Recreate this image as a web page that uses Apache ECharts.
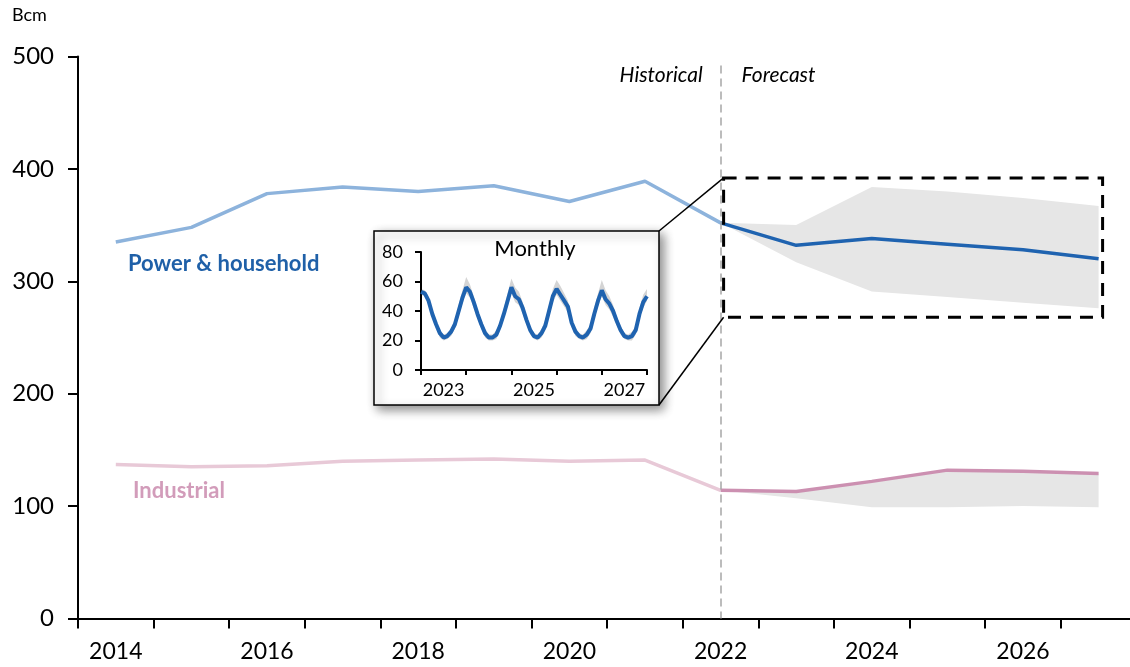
<!DOCTYPE html>
<html>
<head>
<meta charset="utf-8">
<script src="https://cdn.jsdelivr.net/npm/echarts@6/dist/echarts.min.js"></script>
<style>html,body{margin:0;padding:0;background:#fff;overflow:hidden}#c{width:1150px;height:667px}</style>
</head>
<body>
<div id="c"></div>
<script>
// ---- Data ----
const years = ['2014','2015','2016','2017','2018','2019','2020','2021','2022','2023','2024','2025','2026','2027'];
const lastHistIndex = 8; // 2022
const powerValues = [335, 348, 378, 384, 380, 385, 371, 389, 352, 332, 338, 333, 328, 320];
const powerBandLow  = [null, null, null, null, null, null, null, null, 352, 317, 291, 286, 281, 276];
const powerBandHigh = [null, null, null, null, null, null, null, null, 352, 350, 384, 380, 374, 367];
const industrialValues = [137, 135, 136, 140, 141, 142, 140, 141, 114, 113, 122, 132, 131, 129];
const industrialBandLow  = [null, null, null, null, null, null, null, null, 114, 107, 99, 99, 100, 99];
const industrialBandHigh = [null, null, null, null, null, null, null, null, 114, 113, 122, 132, 131, 129];
const yTicks = [0, 100, 200, 300, 400, 500];

const monthlyValues = [53,52,47,38,31,25,22,23,26,31,40,49,
  56,53,46,38,31,25,22,22,24,30,38,47,
  56,50,48,42,34,27,23,22,25,30,40,50,
  55,51,47,43,32,26,23,22,24,28,38,47,
  54,48,45,40,33,27,23,22,23,27,38,46,
  50];
const monthlyHigh = [55,54,50,41,34,27,24,25,28,34,44,54,
  63,58,50,41,34,28,24,24,27,33,42,52,
  62,56,53,46,37,30,25,24,28,34,44,55,
  61,57,52,47,35,29,25,24,27,31,42,52,
  61,54,50,44,36,30,25,24,26,30,42,51,
  55];
const monthlyLow = [51,50,44,35,28,22,20,21,23,28,36,45,
  52,49,42,35,28,22,20,20,21,27,35,43,
  52,46,44,38,31,24,21,20,22,27,36,46,
  51,47,43,39,29,23,21,20,21,25,35,43,
  50,44,41,36,30,24,21,20,20,24,35,42,
  47];
const monthlyYears = ['2023','2024','2025','2026','2027','2028'];
const monthLabels = monthlyValues.map((_, i) => monthlyYears[Math.floor(i / 12)] + '-' + String(i % 12 + 1).padStart(2, '0'));
const insetLabelYears = {6: '2023', 30: '2025', 54: '2027'};
const zoomBox = { from: '2022', to: '2027', top: 392, bottom: 268 };

// ---- Derived ----
const histPart = arr => arr.map((v, i) => i <= lastHistIndex ? v : null);
const fcPart = arr => arr.map((v, i) => i >= lastHistIndex ? v : null);
const diff = (hi, lo) => hi.map((v, i) => (v == null || lo[i] == null) ? null : v - lo[i]);

const FONT = 'Lato';
const chart = echarts.init(document.getElementById('c'), null, { renderer: 'canvas' });

const option = {
  animation: false,
  backgroundColor: '#ffffff',
  textStyle: { fontFamily: FONT },
  grid: [
    { left: 78, top: 56.5, width: 1058.4, height: 562 },
    { left: 421, top: 252, width: 226, height: 118, z: 10 }
  ],
  xAxis: [
    {
      type: 'category', gridIndex: 0, data: years, boundaryGap: true,
      axisLine: { lineStyle: { color: '#000', width: 2 } },
      axisTick: { show: true, length: 10, interval: 0, alignWithLabel: false, lineStyle: { color: '#000', width: 2 } },
      axisLabel: { interval: 1, color: '#000', fontSize: 23, fontFamily: FONT, margin: 22 },
      splitLine: { show: false }
    },
    {
      type: 'category', gridIndex: 1, data: monthLabels, boundaryGap: false, z: 12,
      axisLine: { lineStyle: { color: '#000', width: 2 } },
      axisTick: { show: true, length: 5, interval: (i) => i % 12 === 0, lineStyle: { color: '#000', width: 2 } },
      axisLabel: { interval: (i) => insetLabelYears[i] !== undefined, formatter: (v, i) => insetLabelYears[i] || '', color: '#000', fontSize: 18, fontFamily: FONT, margin: 11 },
      splitLine: { show: false }
    }
  ],
  yAxis: [
    {
      type: 'value', gridIndex: 0, min: yTicks[0], max: yTicks[yTicks.length - 1], interval: 100,
      axisLine: { show: true, lineStyle: { color: '#000', width: 2 } },
      axisTick: { show: true, length: 10, lineStyle: { color: '#000', width: 2 } },
      axisLabel: { color: '#000', fontSize: 24, fontFamily: FONT, margin: 24 },
      splitLine: { show: false }
    },
    {
      type: 'value', gridIndex: 1, min: 0, max: 80, interval: 20, z: 12,
      axisLine: { show: true, lineStyle: { color: '#000', width: 2 } },
      axisTick: { show: true, length: 6, lineStyle: { color: '#000', width: 2 } },
      axisLabel: { color: '#000', fontSize: 18, fontFamily: FONT, margin: 18 },
      splitLine: { show: false }
    }
  ],
  series: [
    { name: 'pbLow', type: 'line', xAxisIndex: 0, yAxisIndex: 0, stack: 'pb', data: powerBandLow, symbol: 'none', lineStyle: { opacity: 0 }, silent: true },
    { name: 'pbRange', type: 'line', xAxisIndex: 0, yAxisIndex: 0, stack: 'pb', data: diff(powerBandHigh, powerBandLow), symbol: 'none', lineStyle: { opacity: 0 }, areaStyle: { color: '#e6e6e6', opacity: 1 }, silent: true },
    { name: 'ibLow', type: 'line', xAxisIndex: 0, yAxisIndex: 0, stack: 'ib', data: industrialBandLow, symbol: 'none', lineStyle: { opacity: 0 }, silent: true },
    { name: 'ibRange', type: 'line', xAxisIndex: 0, yAxisIndex: 0, stack: 'ib', data: diff(industrialBandHigh, industrialBandLow), symbol: 'none', lineStyle: { opacity: 0 }, areaStyle: { color: '#e6e6e6', opacity: 1 }, silent: true },
    { name: 'Power hist', type: 'line', data: histPart(powerValues), symbol: 'none', lineStyle: { color: '#8db3dc', width: 3.5 }, z: 3,
      markLine: { silent: true, symbol: 'none', label: { show: false },
        lineStyle: { color: '#a6a6a6', type: [8, 5], width: 1.5 },
        data: [[{ coord: ['2022', 492] }, { coord: ['2022', 0] }]] } },
    { name: 'Power forecast', type: 'line', data: fcPart(powerValues), symbol: 'none', lineStyle: { color: '#1f63b0', width: 3.5 }, z: 3 },
    { name: 'Industrial hist', type: 'line', data: histPart(industrialValues), symbol: 'none', lineStyle: { color: '#e8c9d7', width: 3.5 }, z: 3 },
    { name: 'Industrial forecast', type: 'line', data: fcPart(industrialValues), symbol: 'none', lineStyle: { color: '#cc90b1', width: 3.5 }, z: 3 },
    { name: 'mLow', type: 'line', xAxisIndex: 1, yAxisIndex: 1, stack: 'm', data: monthlyLow, symbol: 'none', lineStyle: { opacity: 0 }, z: 11, silent: true },
    { name: 'mRange', type: 'line', xAxisIndex: 1, yAxisIndex: 1, stack: 'm', data: diff(monthlyHigh, monthlyLow), symbol: 'none', lineStyle: { opacity: 0 }, areaStyle: { color: '#d4d4d4', opacity: 1 }, z: 11, silent: true },
    { name: 'Monthly', type: 'line', xAxisIndex: 1, yAxisIndex: 1, data: monthlyValues, symbol: 'none', lineStyle: { color: '#1f63b0', width: 4 }, z: 12 }
  ]
};
chart.setOption(option);

// Annotations positioned via the chart's own scales
const p = (x, y) => chart.convertToPixel({ gridIndex: 0 }, [x, y]);
const boxTL = p(zoomBox.from, zoomBox.top);
const boxBR = p(zoomBox.to, zoomBox.bottom);
const bx0 = boxTL[0] + 3, by0 = boxTL[1], bx1 = boxBR[0] + 4, by1 = boxBR[1];
const divX = p('2022', 0)[0];
const frame = { x: 374, y: 231, w: 285, h: 174 };

chart.setOption({
  graphic: [
    { type: 'text', left: 12, top: 6, style: { text: 'Bcm', fontSize: 18, fontFamily: FONT, fill: '#000' } },
    { type: 'text', x: divX - 18, y: 75, style: { text: 'Historical', fontSize: 21, fontStyle: 'italic', fontFamily: FONT, fill: '#000', textAlign: 'right', textVerticalAlign: 'middle' } },
    { type: 'text', x: divX + 21, y: 75, style: { text: 'Forecast', fontSize: 21, fontStyle: 'italic', fontFamily: FONT, fill: '#000', textAlign: 'left', textVerticalAlign: 'middle' } },
    { type: 'text', x: 128, y: 264, style: { text: 'Power & household', fontSize: 22, fontWeight: 'bold', fontFamily: FONT, fill: '#1f60a8', textVerticalAlign: 'middle' } },
    { type: 'text', x: 133, y: 491, style: { text: 'Industrial', fontSize: 22, fontWeight: 'bold', fontFamily: FONT, fill: '#d29cba', textVerticalAlign: 'middle' } },
    { type: 'rect', z: 6, shape: { x: bx0, y: by0, width: bx1 - bx0, height: by1 - by0 }, style: { fill: 'none', stroke: '#000', lineWidth: 3, lineDash: [13, 9] } },
    { type: 'line', z: 6, shape: { x1: frame.x + frame.w, y1: frame.y, x2: bx0, y2: by0 }, style: { stroke: '#000', lineWidth: 1.5 } },
    { type: 'line', z: 6, shape: { x1: frame.x + frame.w, y1: frame.y + frame.h, x2: bx0, y2: by1 }, style: { stroke: '#000', lineWidth: 1.5 } },
    { type: 'rect', z: 7, shape: { x: frame.x, y: frame.y, width: frame.w, height: frame.h }, style: { fill: '#fff', stroke: '#000', lineWidth: 1.5, shadowBlur: 10, shadowColor: 'rgba(0,0,0,0.45)', shadowOffsetX: 4, shadowOffsetY: 4 } },
    { type: 'text', z: 8, x: 535, y: 249, style: { text: 'Monthly', fontSize: 22, fontFamily: FONT, fill: '#000', textAlign: 'center', textVerticalAlign: 'middle' } }
  ]
});
</script>
</body>
</html>
